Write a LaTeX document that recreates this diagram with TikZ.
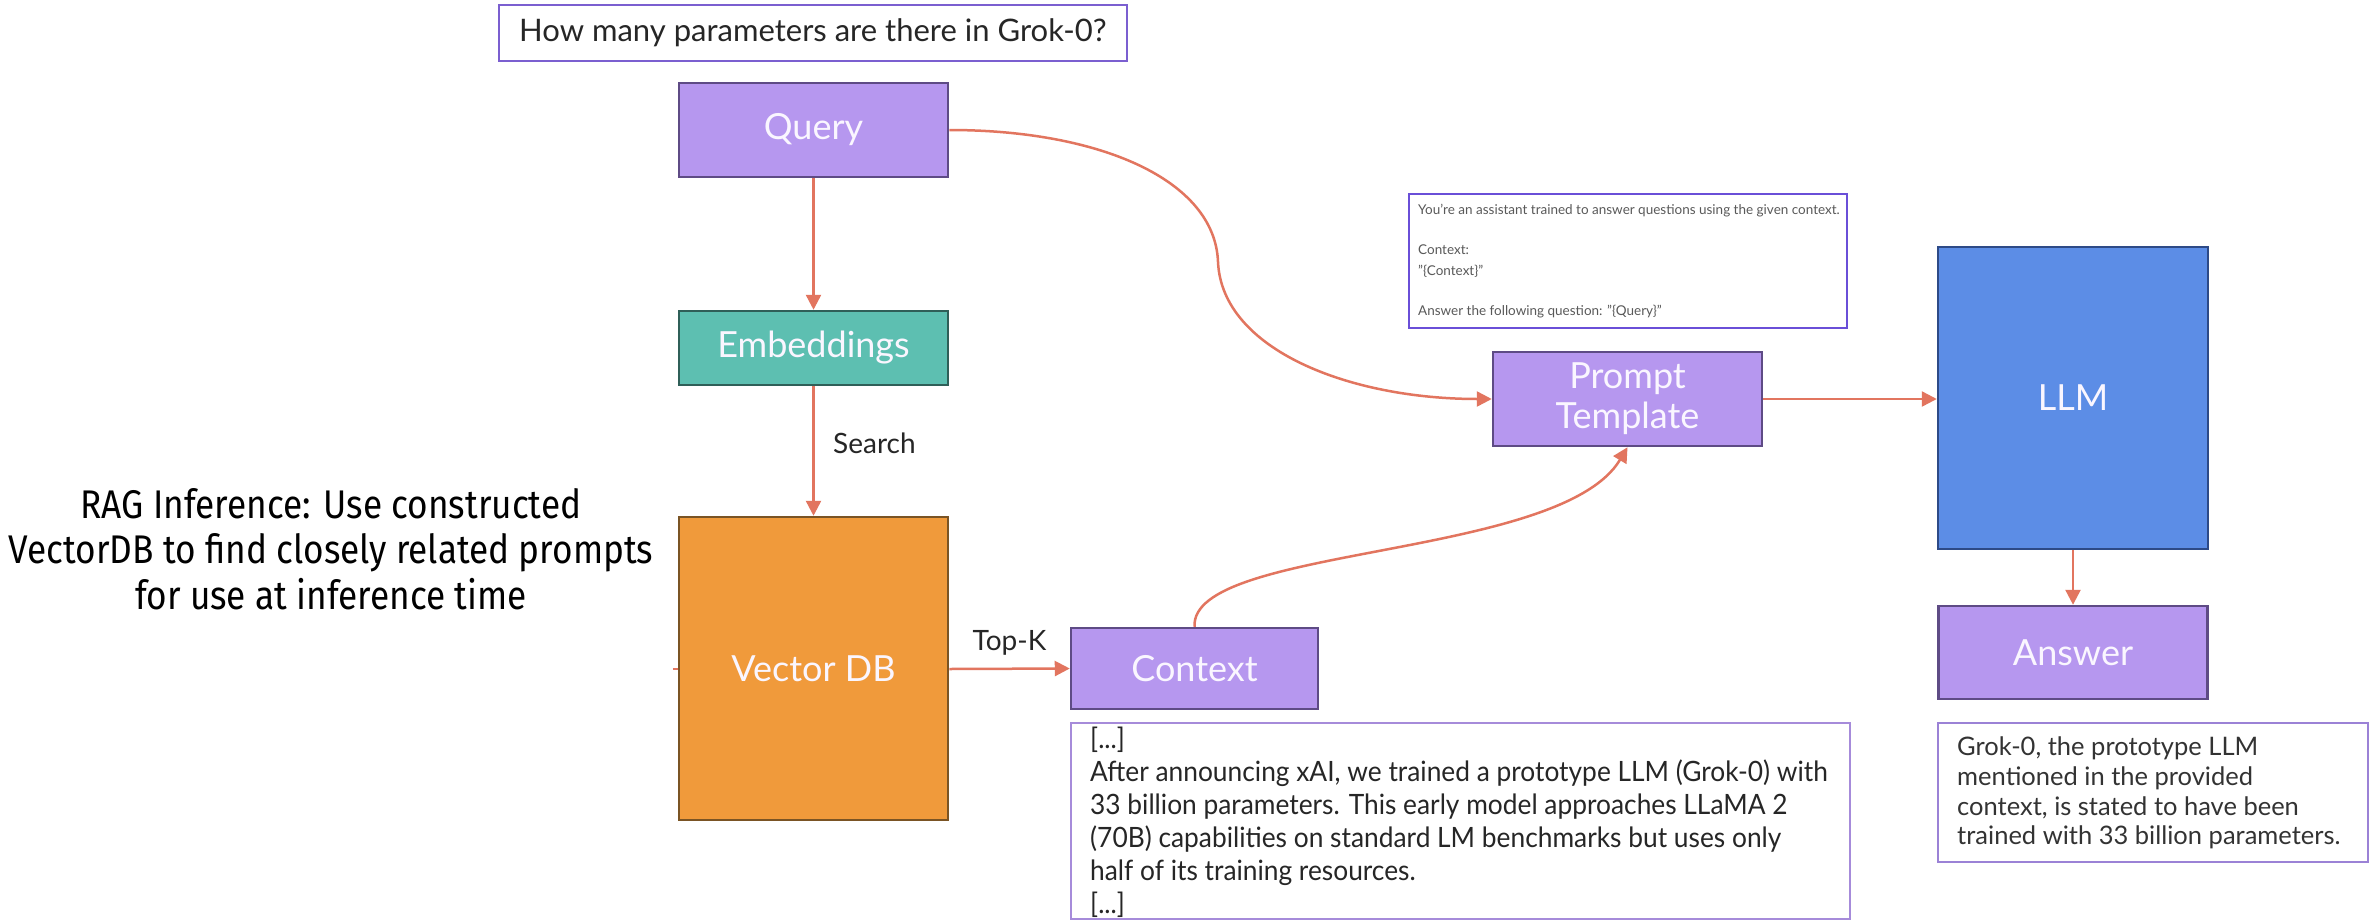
\documentclass[tikz,border=0pt]{standalone}
\usepackage{fontspec}
\setmainfont{Lato}
\newfontfamily\condfont[FakeStretch=0.88]{Fira Sans}
\newfontfamily\ctxfont[FakeStretch=0.94]{Lato}
\usetikzlibrary{arrows.meta}
\definecolor{pfill}{HTML}{B697EF}
\definecolor{pdraw}{HTML}{5E4B85}
\definecolor{efill}{HTML}{5DBFB1}
\definecolor{edraw}{HTML}{2F5F58}
\definecolor{vfill}{HTML}{F09A3B}
\definecolor{vdraw}{HTML}{7A5424}
\definecolor{lfill}{HTML}{5C8DE6}
\definecolor{ldraw}{HTML}{2D4A87}
\definecolor{arr}{HTML}{E2755F}
\definecolor{qborder}{HTML}{7B5FD0}
\definecolor{tborder}{HTML}{6A4FD8}
\definecolor{cborder}{HTML}{A68BDA}
\definecolor{aborder}{HTML}{9B82D6}
\definecolor{labcol}{HTML}{FAF6FF}
\tikzset{
  blk/.style={draw, line width=2.5pt, rectangle, inner sep=0pt, text=labcol,
    font=\fontsize{36}{40}\selectfont, align=center},
  pbox/.style={blk, fill=pfill, draw=pdraw},
  tbox/.style={draw, line width=2.5pt, rectangle, fill=white, inner sep=0pt},
  conn/.style={draw=arr, line width=2.5pt, -{Triangle[length=15pt,width=15pt]}},
  lbl/.style={font=\fontsize{28}{30}\selectfont, text=black!85, inner sep=0pt},
}
\begin{document}
\begin{tikzpicture}[x=1pt,y=-1pt]
\useasboundingbox (0,0) rectangle (2376,921);
\fill[white] (0,0) rectangle (2376,921);

% question
\node[tbox, draw=qborder, minimum width=628pt, minimum height=56pt] (qbox) at (813,33) {};
\node[anchor=west, inner sep=0pt, font=\fontsize{31}{33}\selectfont, text=black!85] (qtext) at (519,33) {How many parameters are there in Grok-0?};

% main boxes
\node[pbox, minimum width=269pt, minimum height=94pt] (query) at (813.5,130) {Query};
\node[blk, fill=efill, draw=edraw, minimum width=269pt, minimum height=74pt] (emb) at (813.5,348) {Embeddings};
\node[blk, fill=vfill, draw=vdraw, minimum width=269pt, minimum height=303pt] (vdb) at (813.5,668.5) {};
\node[text=labcol, font=\fontsize{36}{38}\selectfont, inner sep=0pt] (vdblabel) at (813.5,669) {Vector DB};
\node[pbox, minimum width=247pt, minimum height=81pt] (ctx) at (1194.5,668.5) {Context};
\node[pbox, minimum width=269pt, minimum height=94pt] (prompt) at (1627.5,399) {Prompt\\Template};
\node[blk, fill=lfill, draw=ldraw, minimum width=270pt, minimum height=302pt] (llm) at (2073,398) {LLM};
\node[pbox, minimum width=269pt, minimum height=93pt] (answer) at (2073,652.5) {Answer};

% prompt template text
\node[tbox, draw=tborder, minimum width=438pt, minimum height=134pt] (ptbox) at (1628,261) {};
\node[anchor=north west, inner sep=0pt, align=left, text=black!65,
  font=\fontsize{13.5}{20.2}\selectfont] (pttext) at (1418,204) {You're an assistant trained to answer questions using the given context.\\\strut\\Context:\\"\{Context\}"\\\strut\\Answer the following question: "\{Query\}"};

% context text
\node[tbox, draw=cborder, minimum width=779pt, minimum height=196pt] (ctbox) at (1460.5,821) {};
\node[anchor=north west, inner sep=0pt, align=left, text=black!85,
  font=\ctxfont\fontsize{28}{33}\selectfont] (cttext) at (1090,727) {{[...]}\\After announcing xAI, we trained a prototype LLM (Grok-0) with\\33 billion parameters. This early model approaches LLaMA 2\\(70B) capabilities on standard LM benchmarks but uses only\\half of its training resources.\\{}{[...]}};

% answer text
\node[tbox, draw=aborder, minimum width=430pt, minimum height=139pt] (atbox) at (2153,792.5) {};
\node[anchor=north west, inner sep=0pt, align=left, text=black!80,
  font=\fontsize{25.5}{29.6}\selectfont] (attext) at (1957,737) {Grok-0, the prototype LLM\\mentioned in the provided\\context, is stated to have been\\trained with 33 billion parameters.};

% left label
\node[align=center, inner sep=0pt, font=\condfont\fontsize{40}{45.5}\selectfont, text=black] (rag) at (331,549) {RAG Inference: Use constructed\\VectorDB to find closely related prompts\\for use at inference time};

% connectors
\draw[conn] (query.south) -- (emb.north);
\draw[conn] (emb.south) -- (vdb.north);
\node[lbl, anchor=west] (search) at (833,443) {Search};
\coordinate (vdbout) at (vdb.east |- vdblabel);
\draw[conn] (vdbout) -- (ctx.west) node[lbl, midway, anchor=south, yshift=12pt] (topk) {Top-K};
\coordinate (stub) at ([xshift=-5pt]vdb.west |- vdblabel);
\draw[draw=arr, line width=2pt] (stub) -- (vdb.west |- vdblabel);
\draw[conn] (query.east) .. controls (1100,130) and (1215,180) .. (1218,262)
  .. controls (1222,350) and (1350,399) .. (prompt.west);
\draw[conn] (ctx.north) .. controls (1190,545) and (1560,560) .. (prompt.south);
\draw[conn] (prompt.east) -- (llm.west |- prompt.east);
\draw[conn] (llm.south) -- (answer.north);
\end{tikzpicture}
\end{document}
